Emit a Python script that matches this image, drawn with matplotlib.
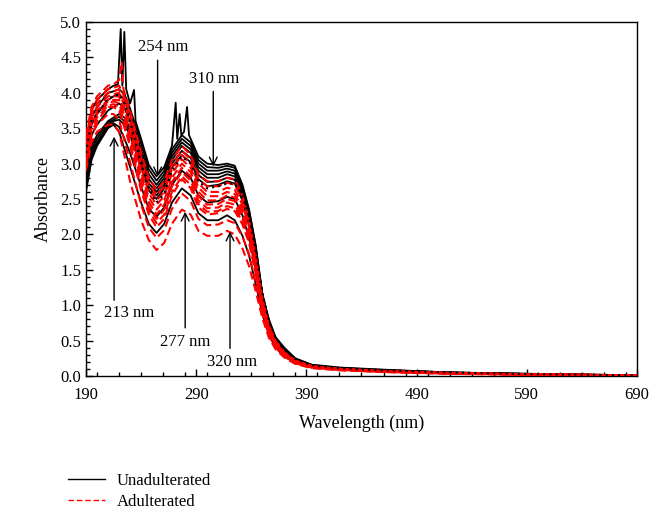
import matplotlib
matplotlib.use('Agg')
import matplotlib.pyplot as plt
from matplotlib.ticker import MultipleLocator, FormatStrFormatter
from matplotlib.lines import Line2D

plt.rcParams['font.family'] = ['Liberation Serif', 'DejaVu Serif']

# shared wavelength grid (nm)
wl = [190, 195, 200, 210, 215, 220, 225, 230, 240, 247, 254, 261, 268, 277, 285, 292,
      300, 310, 318, 325, 332, 338, 344, 350, 356, 362, 370, 380, 395, 420, 460, 520, 600, 690]

# top unadulterated spectrum with its noisy spikes
b1_wl = [190, 195, 200, 210, 215, 219, 221.5, 223, 224.8, 226.5, 230, 233.6, 235, 240, 247,
         254, 261, 268, 271.4, 272.8, 275, 276.5, 279, 281.7, 283.5, 285, 292, 300, 310, 318,
         325, 332, 338, 344, 350, 356, 362, 370, 380, 395, 420, 460, 520, 600, 690]
b1 = [3.3, 3.75, 3.9, 4.05, 4.1, 4.12, 4.9, 4.1, 4.86, 4.05, 3.85, 4.04, 3.6, 3.35, 2.98,
      2.82, 2.95, 3.25, 3.86, 3.35, 3.7, 3.4, 3.45, 3.8, 3.4, 3.35, 3.1, 3.0, 2.98, 3.0,
      2.97, 2.7, 2.35, 1.85, 1.15, 0.8, 0.55, 0.4, 0.25, 0.16, 0.12, 0.09, 0.05, 0.03, 0.01]

unadulterated = [
    [3.15, 3.65, 3.8, 4.0, 4.02, 4.05, 3.98, 3.78, 3.28, 2.92, 2.76, 2.9, 3.2, 3.4, 3.3, 3.05,
     2.95, 2.94, 2.97, 2.94, 2.68, 2.33, 1.83, 1.17, 0.78, 0.54, 0.38, 0.24, 0.155, 0.115, 0.085, 0.05, 0.028, 0.01],
    [3.0, 3.55, 3.7, 3.9, 3.95, 3.98, 3.9, 3.7, 3.2, 2.85, 2.7, 2.85, 3.15, 3.35, 3.25, 3.0,
     2.9, 2.9, 2.93, 2.9, 2.65, 2.3, 1.8, 1.15, 0.75, 0.52, 0.36, 0.23, 0.15, 0.11, 0.08, 0.05, 0.025, 0.01],
    [2.9, 3.4, 3.55, 3.75, 3.8, 3.85, 3.78, 3.6, 3.12, 2.78, 2.65, 2.8, 3.1, 3.3, 3.2, 2.95,
     2.85, 2.85, 2.89, 2.86, 2.62, 2.26, 1.76, 1.12, 0.74, 0.51, 0.35, 0.225, 0.145, 0.105, 0.075, 0.047, 0.023, 0.01],
    [2.8, 3.25, 3.4, 3.6, 3.65, 3.7, 3.65, 3.5, 3.05, 2.72, 2.6, 2.75, 3.05, 3.25, 3.15, 2.9,
     2.8, 2.8, 2.85, 2.82, 2.58, 2.22, 1.72, 1.1, 0.72, 0.5, 0.34, 0.22, 0.14, 0.1, 0.07, 0.045, 0.022, 0.01],
    [2.75, 3.2, 3.35, 3.58, 3.62, 3.66, 3.6, 3.45, 3.0, 2.67, 2.55, 2.7, 3.0, 3.18, 3.08, 2.84,
     2.74, 2.75, 2.8, 2.77, 2.53, 2.17, 1.67, 1.08, 0.7, 0.48, 0.33, 0.215, 0.14, 0.1, 0.07, 0.042, 0.021, 0.01],
    [2.7, 3.15, 3.3, 3.55, 3.6, 3.62, 3.55, 3.4, 2.95, 2.62, 2.5, 2.65, 2.95, 3.12, 3.02, 2.78,
     2.68, 2.7, 2.75, 2.72, 2.48, 2.12, 1.62, 1.05, 0.68, 0.47, 0.32, 0.21, 0.14, 0.1, 0.07, 0.04, 0.02, 0.01],
    [2.65, 3.1, 3.28, 3.52, 3.57, 3.52, 3.35, 3.15, 2.68, 2.36, 2.25, 2.38, 2.7, 2.9, 2.8, 2.55,
     2.45, 2.47, 2.53, 2.5, 2.27, 1.95, 1.5, 0.97, 0.63, 0.44, 0.3, 0.2, 0.13, 0.095, 0.065, 0.04, 0.02, 0.009],
    [2.6, 3.05, 3.25, 3.5, 3.55, 3.45, 3.2, 2.95, 2.45, 2.15, 2.02, 2.15, 2.45, 2.65, 2.55, 2.3,
     2.2, 2.2, 2.27, 2.2, 1.98, 1.7, 1.3, 0.88, 0.58, 0.4, 0.28, 0.18, 0.12, 0.09, 0.06, 0.035, 0.018, 0.008],
]

dotted = [3.15, 3.6, 3.7, 3.92, 3.95, 3.98, 3.85, 3.6, 3.0, 2.65, 2.45, 2.58, 2.9, 3.1, 3.0, 2.75,
          2.65, 2.68, 2.72, 2.72, 2.55, 2.25, 1.78, 1.18, 0.78, 0.54, 0.37, 0.24, 0.15, 0.11, 0.08, 0.05, 0.025, 0.01]

# top adulterated spectrum with its spike
r1_wl = [190, 195, 200, 210, 215, 220, 222.4, 224, 225, 230, 240, 247, 254, 261, 268, 277, 285, 292,
         300, 310, 318, 325, 332, 338, 344, 350, 356, 362, 370, 380, 395, 420, 460, 520, 600, 690]
r1 = [3.4, 3.8, 3.95, 4.1, 4.12, 4.18, 4.44, 4.05, 4.0, 3.75, 3.15, 2.8, 2.62, 2.75, 3.05, 3.25, 3.12, 2.85,
      2.75, 2.75, 2.8, 2.78, 2.55, 2.2, 1.7, 1.1, 0.72, 0.5, 0.34, 0.22, 0.14, 0.1, 0.07, 0.045, 0.022, 0.01]

adulterated = [
    [3.35, 3.75, 3.9, 4.05, 4.07, 4.1, 3.94, 3.68, 3.08, 2.72, 2.55, 2.68, 2.98, 3.18, 3.06, 2.78,
     2.68, 2.68, 2.73, 2.7, 2.48, 2.15, 1.66, 1.08, 0.7, 0.48, 0.33, 0.215, 0.14, 0.1, 0.07, 0.042, 0.021, 0.01],
    [3.3, 3.7, 3.85, 4.0, 4.02, 4.05, 3.88, 3.62, 3.0, 2.65, 2.48, 2.6, 2.92, 3.12, 3.0, 2.72,
     2.6, 2.6, 2.66, 2.63, 2.42, 2.1, 1.62, 1.05, 0.68, 0.47, 0.32, 0.21, 0.14, 0.1, 0.07, 0.04, 0.02, 0.01],
    [3.25, 3.65, 3.8, 3.95, 3.98, 4.0, 3.82, 3.56, 2.94, 2.58, 2.42, 2.54, 2.86, 3.06, 2.94, 2.66,
     2.54, 2.54, 2.6, 2.57, 2.37, 2.06, 1.58, 1.02, 0.66, 0.46, 0.315, 0.205, 0.135, 0.1, 0.067, 0.04, 0.02, 0.01],
    [3.2, 3.6, 3.75, 3.9, 3.95, 3.95, 3.75, 3.5, 2.88, 2.52, 2.35, 2.48, 2.8, 3.0, 2.88, 2.6,
     2.48, 2.48, 2.55, 2.52, 2.32, 2.02, 1.55, 1.0, 0.65, 0.45, 0.31, 0.2, 0.13, 0.1, 0.065, 0.04, 0.02, 0.01],
    [3.15, 3.58, 3.72, 3.88, 3.9, 3.9, 3.68, 3.44, 2.82, 2.46, 2.28, 2.42, 2.74, 2.94, 2.82, 2.54,
     2.42, 2.43, 2.5, 2.47, 2.27, 1.98, 1.52, 0.99, 0.64, 0.445, 0.305, 0.2, 0.13, 0.097, 0.065, 0.04, 0.02, 0.01],
    [3.1, 3.55, 3.7, 3.85, 3.88, 3.85, 3.62, 3.38, 2.75, 2.4, 2.22, 2.35, 2.68, 2.88, 2.76, 2.48,
     2.37, 2.38, 2.45, 2.42, 2.22, 1.95, 1.5, 0.98, 0.63, 0.44, 0.3, 0.2, 0.13, 0.095, 0.065, 0.04, 0.02, 0.01],
    [3.05, 3.5, 3.65, 3.82, 3.84, 3.8, 3.56, 3.3, 2.68, 2.34, 2.16, 2.28, 2.6, 2.82, 2.7, 2.43,
     2.32, 2.33, 2.4, 2.37, 2.18, 1.91, 1.47, 0.96, 0.62, 0.435, 0.295, 0.195, 0.127, 0.092, 0.062, 0.037, 0.019, 0.009],
    [3.0, 3.45, 3.6, 3.8, 3.8, 3.75, 3.5, 3.25, 2.62, 2.28, 2.1, 2.22, 2.55, 2.78, 2.65, 2.38,
     2.28, 2.3, 2.36, 2.33, 2.14, 1.88, 1.45, 0.95, 0.61, 0.43, 0.29, 0.19, 0.125, 0.09, 0.06, 0.035, 0.018, 0.008],
    [2.95, 3.4, 3.55, 3.7, 3.7, 3.62, 3.32, 3.02, 2.42, 2.1, 1.95, 2.06, 2.36, 2.58, 2.47, 2.22,
     2.13, 2.14, 2.2, 2.16, 1.97, 1.72, 1.33, 0.88, 0.57, 0.4, 0.275, 0.18, 0.118, 0.085, 0.058, 0.033, 0.017, 0.008],
    [2.9, 3.3, 3.45, 3.55, 3.55, 3.45, 3.1, 2.75, 2.2, 1.92, 1.78, 1.88, 2.15, 2.35, 2.28, 2.05,
     1.98, 1.98, 2.05, 2.0, 1.8, 1.55, 1.2, 0.82, 0.54, 0.38, 0.26, 0.17, 0.11, 0.08, 0.055, 0.03, 0.015, 0.007],
]

# annotations: label, arrow x, tail y, tip y, text x, text y
notes = [
    ('213 nm', 215.5, 1.07, 3.38, 229.5, 0.89),
    ('254 nm', 255.0, 4.46, 2.82, 260.0, 4.65),
    ('310 nm', 305.5, 4.02, 2.96, 306.0, 4.20),
    ('277 nm', 280.0, 0.68, 2.32, 280.3, 0.48),
    ('320 nm', 320.7, 0.39, 2.04, 322.5, 0.20),
]

fig = plt.figure(figsize=(6.64, 5.25), dpi=100)
ax = fig.add_axes([0.1295, 0.2838, 0.8298, 0.6743])

for s in unadulterated:
    ax.plot(wl, s, color='black', lw=1.3, zorder=2)
ax.plot(b1_wl, b1, color='black', lw=1.3, zorder=2)
ax.plot(r1_wl, r1, color='red', lw=1.5, ls=(0, (4, 2)), zorder=3)
for s in adulterated:
    ax.plot(wl, s, color='red', lw=1.5, ls=(0, (4, 2)), zorder=3)
ax.plot(wl, dotted, color='black', lw=1.5, ls=(0, (1, 2)), zorder=4)

for lab, x, y0, y1, tx, ty in notes:
    ax.annotate('', xy=(x, y1), xytext=(x, y0),
                arrowprops=dict(arrowstyle='->', color='black', lw=1.0,
                                shrinkA=0, shrinkB=0, mutation_scale=14), zorder=5)
    ax.text(tx, ty, lab, ha='center', va='center', fontsize=12)

ax.set_xlim(190, 690)
ax.set_ylim(0, 5.0)
ax.set_xticks([190, 290, 390, 490, 590, 690])
ax.xaxis.set_minor_locator(MultipleLocator(20))
ax.yaxis.set_major_locator(MultipleLocator(0.5))
ax.yaxis.set_minor_locator(MultipleLocator(0.1))
ax.yaxis.set_major_formatter(FormatStrFormatter('%.1f'))
ax.tick_params(which='both', direction='in', top=False, right=False, labelsize=12)
ax.tick_params(which='major', length=5, width=1)
ax.tick_params(which='minor', length=3, width=1)
ax.tick_params(axis='x', pad=8)
for sp in ax.spines.values():
    sp.set_linewidth(1.0)

ax.set_xlabel('Wavelength (nm)', fontsize=13, labelpad=8)
ax.set_ylabel('Absorbance', fontsize=13, labelpad=6)

handles = [Line2D([], [], color='black', lw=1.0),
           Line2D([], [], color='red', lw=1.0, ls=(0, (4, 2)))]
fig.legend(handles, ['Unadulterated', 'Adulterated'], loc='upper left',
           bbox_to_anchor=(0.09, 0.115), frameon=False, fontsize=12,
           handlelength=2.2, handletextpad=0.7, labelspacing=0.3, borderpad=0)

fig.savefig('out.png', dpi=100)
